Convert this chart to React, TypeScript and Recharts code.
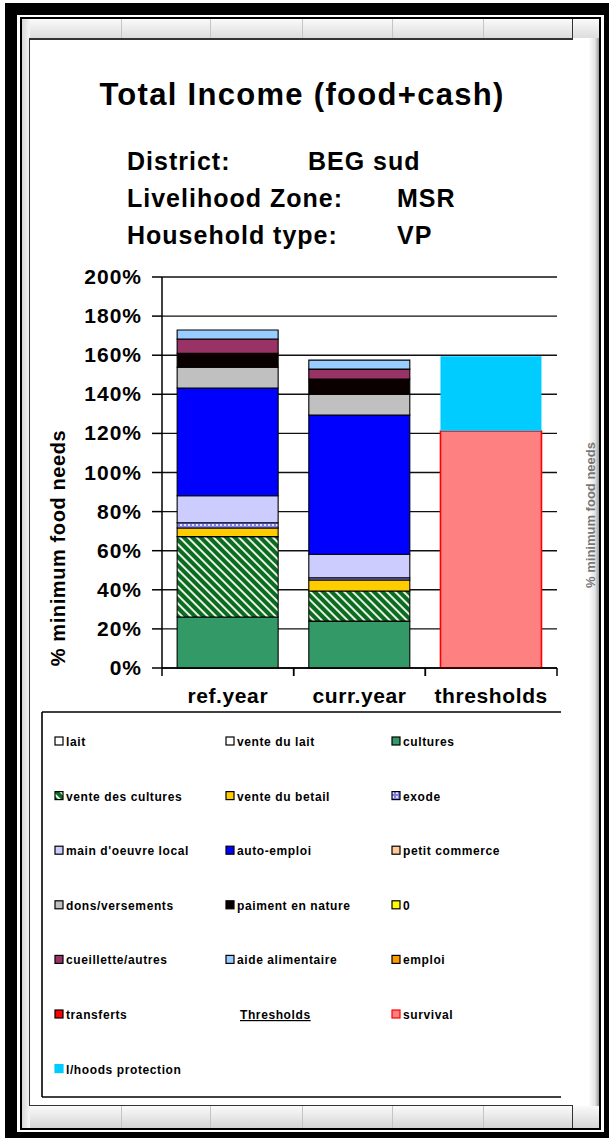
import React from 'react';
import { BarChart, Bar, XAxis, YAxis, CartesianGrid } from 'recharts';

// ---------- data ----------
const categories = ['ref.year', 'curr.year', 'thresholds'];
const lait = [0, 0, 0];
const venteDuLait = [0, 0, 0];
const cultures = [26.1, 24, 0];
const venteDesCultures = [41.1, 15.4, 0];
const venteDuBetail = [4.4, 5.6, 0];
const exode = [2.7, 1.2, 0];
const mainDoeuvreLocal = [13.8, 12, 0];
const autoEmploi = [55.1, 71.2, 0];
const petitCommerce = [0, 0, 0];
const donsVersements = [10.6, 10.6, 0];
const paimentEnNature = [7.2, 7.8, 0];
const zeroSeries = [0, 0, 0];
const cueillette = [7.3, 5.1, 0];
const aideAlimentaire = [4.6, 4.6, 0];
const emploi = [0, 0, 0];
const transferts = [0, 0, 0];
const survival = [0, 0, 121.2];
const lhoodsProtection = [0, 0, 38.3];
const yTicks = [0, 20, 40, 60, 80, 100, 120, 140, 160, 180, 200];

const seriesNames = [
  'lait', 'vente du lait', 'cultures', 'vente des cultures', 'vente du betail', 'exode',
  "main d'oeuvre local", 'auto-emploi', 'petit commerce', 'dons/versements',
  'paiment en nature', '0', 'cueillette/autres', 'aide alimentaire', 'emploi',
  'transferts', 'survival', 'l/hoods protection',
];
const seriesValues = [
  lait, venteDuLait, cultures, venteDesCultures, venteDuBetail, exode,
  mainDoeuvreLocal, autoEmploi, petitCommerce, donsVersements,
  paimentEnNature, zeroSeries, cueillette, aideAlimentaire, emploi,
  transferts, survival, lhoodsProtection,
];

// styles (separate from data)
const fills: Record<string, string> = {
  'lait': '#FFFFFF',
  'vente du lait': '#FFFFFF',
  'cultures': '#339966',
  'vente des cultures': 'url(#hatchGreen)',
  'vente du betail': '#FFCC00',
  'exode': 'url(#dotBlue)',
  "main d'oeuvre local": '#CCCCFF',
  'auto-emploi': '#0000FF',
  'petit commerce': '#FFCC99',
  'dons/versements': '#C0C0C0',
  'paiment en nature': '#0A0000',
  '0': '#FFFF00',
  'cueillette/autres': '#993366',
  'aide alimentaire': '#99CCFF',
  'emploi': '#FF9900',
  'transferts': '#FF0000',
  'survival': '#FF8080',
  'l/hoods protection': '#00CCFF',
};
const strokes: Record<string, string> = {
  'survival': '#FF0000',
  'l/hoods protection': 'none',
};

const data = categories.map((c, i) => {
  const row: Record<string, string | number> = { name: c };
  seriesNames.forEach((s, k) => { row[s] = seriesValues[k][i]; });
  return row;
});

// legend layout: 3 columns, row-major; "Thresholds" is a header entry
const legendEntries = [
  'lait', 'vente du lait', 'cultures',
  'vente des cultures', 'vente du betail', 'exode',
  "main d'oeuvre local", 'auto-emploi', 'petit commerce',
  'dons/versements', 'paiment en nature', '0',
  'cueillette/autres', 'aide alimentaire', 'emploi',
  'transferts', '#Thresholds', 'survival',
  'l/hoods protection',
];

const FONT = '"Liberation Sans", Arial, sans-serif';

const XTick = (props: any) => {
  const { x, y, payload } = props;
  const off = payload && payload.offset ? payload.offset : 65.8;
  return (
    <g>
      <line x1={x - off} x2={x - off} y1={y} y2={y + 8} stroke="#000" strokeWidth={1.5} />
      <line x1={x + off} x2={x + off} y1={y} y2={y + 8} stroke="#000" strokeWidth={1.5} />
      <text x={x} y={y + 35} textAnchor="middle" fontFamily={FONT} fontWeight="bold"
        fontSize={21} letterSpacing={0.6} fill="#000">{payload.value}</text>
    </g>
  );
};

const YTick = (props: any) => {
  const { x, y, payload } = props;
  return (
    <text x={x} y={y + 7} textAnchor="end" fontFamily={FONT} fontWeight="bold"
      fontSize={21} letterSpacing={1} fill="#000">{`${payload.value}%`}</text>
  );
};

const abs = (l: number, t: number, w: number, h: number, extra: React.CSSProperties = {}): React.CSSProperties => ({
  position: 'absolute', left: l, top: t, width: w, height: h, boxSizing: 'border-box', ...extra,
});

const colLines = [121, 210, 302, 392, 483];

export default function App() {
  const colX = [55, 226, 392];
  const rowY0 = 741;
  const rowStep = 54.6;
  return (
    <div style={{ position: 'absolute', left: 0, top: 0, width: 611, height: 1139, background: '#fff', overflow: 'hidden', fontFamily: FONT }}>
      <svg width={0} height={0} style={{ position: 'absolute' }}>
        <defs>
          <pattern id="hatchGreen" width={6} height={6} patternUnits="userSpaceOnUse" patternTransform="rotate(-45)">
            <rect width={6} height={6} fill="#E8F0E8" />
            <rect width={4} height={6} fill="#0B6B1E" />
          </pattern>
          <pattern id="dotBlue" width={4} height={4} patternUnits="userSpaceOnUse">
            <rect width={4} height={4} fill="#8080E8" />
            <rect x={0} y={0} width={2} height={2} fill="#E0E0FF" />
          </pattern>
        </defs>
      </svg>

      {/* outer frame */}
      <div style={abs(5, 3, 604, 1135, { background: '#000' })} />
      <div style={abs(17, 15, 587, 1117, { background: '#fff' })} />
      <div style={abs(20, 17, 581, 1113, { border: '2px solid #000', background: '#f2f2f2' })} />
      {/* spreadsheet header / footer bands */}
      <div style={abs(22, 19, 577, 20, { background: 'linear-gradient(#fafafa, #dcdcdc)' })} />
      <div style={abs(22, 1106, 577, 22, { background: 'linear-gradient(#fafafa, #d6d6d6)' })} />
      {colLines.map((x) => (
        <React.Fragment key={x}>
          <div style={abs(x, 19, 1, 20, { background: '#c4c4c4' })} />
          <div style={abs(x, 1106, 1, 22, { background: '#c4c4c4' })} />
        </React.Fragment>
      ))}
      <div style={abs(22, 19, 8, 1109, { background: 'linear-gradient(90deg, #d8d8d8, #f6f6f6)' })} />
      <div style={abs(573, 38, 26, 1068, { background: 'linear-gradient(90deg, #ffffff 60%, #e4e4e4 85%, #9a9a9a)' })} />
      <div style={abs(572, 19, 1, 1109, { background: '#333' })} />
      {/* faint chart text behind, at right edge */}
      <div style={{ position: 'absolute', left: 590, top: 515, transform: 'translate(-50%,-50%) rotate(-90deg)', whiteSpace: 'nowrap', fontSize: 13, fontWeight: 'bold', color: '#777' }}>
        % minimum food needs
      </div>
      {/* chart area */}
      <div style={abs(29, 38, 544, 1068, { background: '#fff', borderLeft: '1px solid #333', borderTop: '2px solid #333', borderBottom: '1px solid #333' })} />

      {/* chart */}
      <div style={{ position: 'absolute', left: 0, top: 0 }}>
        <BarChart width={611} height={720} data={data}
          margin={{ top: 277, right: 54, bottom: 0, left: 0 }}
          barCategoryGap="11.5%">
          <CartesianGrid horizontal vertical={false} stroke="#111" strokeWidth={1.4} />
          <XAxis dataKey="name" height={52} axisLine={{ stroke: '#000', strokeWidth: 1.5 }}
            tickLine={false} tickSize={0} tickMargin={0} tick={<XTick />} interval={0} />
          <YAxis width={162} domain={[0, 200]} ticks={yTicks} interval={0}
            axisLine={{ stroke: '#000', strokeWidth: 1.5 }}
            tickLine={{ stroke: '#000', strokeWidth: 1.5 }} tickSize={10} tickMargin={10}
            tick={<YTick />} />
          <YAxis yAxisId="right" orientation="right" width={0} domain={[0, 200]}
            tick={false} tickLine={false} axisLine={{ stroke: '#000', strokeWidth: 1.5 }} />
          {seriesNames.map((s) => (
            <Bar key={s} dataKey={s} stackId="a" fill={fills[s]}
              stroke={strokes[s] ?? '#000'} strokeWidth={s === 'survival' ? 1.6 : 1.1}
              isAnimationActive={false} />
          ))}
        </BarChart>
      </div>

      {/* texts and legend */}
      <svg width={611} height={1139} style={{ position: 'absolute', left: 0, top: 0, pointerEvents: 'none' }}>
        <text x={302} y={105} textAnchor="middle" fontFamily={FONT} fontWeight="bold" fontSize={31} letterSpacing={1.3}>
          Total Income (food+cash)
        </text>
        <g fontFamily={FONT} fontWeight="bold" fontSize={25} letterSpacing={1}>
          <text x={127} y={170}>District:</text>
          <text x={308} y={170}>BEG sud</text>
          <text x={127} y={207}>Livelihood Zone:</text>
          <text x={397} y={207}>MSR</text>
          <text x={127} y={244}>Household type:</text>
          <text x={397} y={244}>VP</text>
        </g>
        <text transform="translate(65,548) rotate(-90)" textAnchor="middle" fontFamily={FONT}
          fontWeight="bold" fontSize={20} letterSpacing={0.6}>% minimum food needs</text>

        {/* legend box */}
        <line x1={42} x2={561} y1={712} y2={712} stroke="#000" strokeWidth={1.6} />
        <line x1={42} x2={561} y1={1097} y2={1097} stroke="#000" strokeWidth={1.6} />
        <line x1={42} x2={42} y1={712} y2={1097} stroke="#000" strokeWidth={1.6} />
        {legendEntries.map((e, i) => {
          const cx = colX[i % 3];
          const cy = rowY0 + Math.floor(i / 3) * rowStep;
          if (e.startsWith('#')) {
            return (
              <text key={e} x={240} y={cy + 5} fontFamily={FONT} fontWeight="bold" fontSize={12}
                letterSpacing={0.6} textDecoration="underline">{e.slice(1)}</text>
            );
          }
          const st = strokes[e] && strokes[e] !== 'none' ? strokes[e] : (e === 'l/hoods protection' ? '#00CCFF' : '#000');
          return (
            <g key={e}>
              <rect x={cx} y={cy - 4} width={8} height={8} fill={fills[e]} stroke={st} strokeWidth={1.2} />
              <text x={cx + 11} y={cy + 5} fontFamily={FONT} fontWeight="bold" fontSize={12}
                letterSpacing={0.6}>{e}</text>
            </g>
          );
        })}
      </svg>
    </div>
  );
}
